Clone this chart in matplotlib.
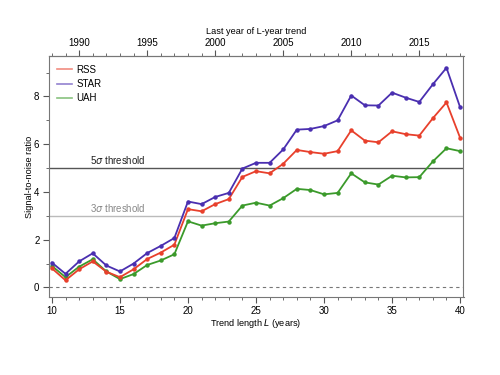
import matplotlib.pyplot as plt
import numpy as np
from matplotlib.ticker import MultipleLocator

plt.rcParams['font.family'] = ['Liberation Sans', 'DejaVu Sans']

# Trend length L (years)
trend_length = np.arange(10, 41)

# Signal-to-noise ratios
rss = [0.80, 0.30, 0.76, 1.09, 0.66, 0.43, 0.76, 1.19, 1.46, 1.79,
       3.28, 3.19, 3.49, 3.70, 4.63, 4.87, 4.78, 5.18, 5.76, 5.67,
       5.60, 5.71, 6.58, 6.15, 6.08, 6.54, 6.42, 6.36, 7.09, 7.75, 6.27]
star = [1.04, 0.57, 1.09, 1.43, 0.92, 0.67, 1.00, 1.44, 1.74, 2.07,
        3.60, 3.49, 3.79, 3.96, 4.98, 5.22, 5.22, 5.78, 6.61, 6.64,
        6.76, 7.00, 8.04, 7.63, 7.62, 8.16, 7.95, 7.77, 8.51, 9.20, 7.55]
uah = [0.90, 0.43, 0.87, 1.18, 0.67, 0.35, 0.56, 0.94, 1.13, 1.39,
       2.77, 2.59, 2.69, 2.76, 3.43, 3.55, 3.43, 3.74, 4.13, 4.08,
       3.90, 3.96, 4.78, 4.40, 4.31, 4.68, 4.61, 4.62, 5.28, 5.83, 5.71]

first_year = 1978  # last year of trend = L + 1978

fig = plt.figure(figsize=(5, 3.75), dpi=100)
ax = fig.add_axes([0.097, 0.208, 0.83, 0.643])

ax.axhline(5, color='#555555', lw=1.0, zorder=1)
ax.axhline(3, color='#bbbbbb', lw=1.0, zorder=1)
ax.axhline(0, color='#777777', lw=0.8, ls=(0, (3, 3)), zorder=1)
ax.text(12.8, 5.08, r'5$\sigma$ threshold', fontsize=7, color='#222222', va='bottom')
ax.text(12.8, 3.08, r'3$\sigma$ threshold', fontsize=7, color='#888888', va='bottom')

colors = {'RSS': '#e8402c', 'STAR': '#4a2fb0', 'UAH': '#3b9a2b'}
for name, vals in [('UAH', uah), ('RSS', rss), ('STAR', star)]:
    ax.plot(trend_length, vals, color=colors[name], lw=1.3, marker='o', ms=2.2, zorder=3)

handles = [plt.Line2D([], [], color=colors[n], lw=1.2, alpha=0.6) for n in ['RSS', 'STAR', 'UAH']]
ax.legend(handles, ['RSS', 'STAR', 'UAH'], loc='upper left', frameon=False, fontsize=7,
          handlelength=1.5, handletextpad=0.5, labelspacing=0.45,
          bbox_to_anchor=(0.0, 1.0))

ax.set_xlim(9.75, 40.25)
ax.set_ylim(-0.4, 9.7)
ax.xaxis.set_major_locator(MultipleLocator(5))
ax.xaxis.set_minor_locator(MultipleLocator(1))
ax.yaxis.set_major_locator(MultipleLocator(2))
ax.yaxis.set_minor_locator(MultipleLocator(1))
ax.tick_params(which='both', direction='out', labelsize=7, color='#555555', pad=2.5)
ax.tick_params(which='major', length=4)
ax.tick_params(which='minor', length=2.5)
for sp in ax.spines.values():
    sp.set_color('#777777')
    sp.set_linewidth(0.8)

ax.set_xlabel(r'Trend length $\it{L}$ (years)', fontsize=6.6, labelpad=1)
ax.set_ylabel('Signal-to-noise ratio', fontsize=6.6, labelpad=0)

top = ax.secondary_xaxis('top', functions=(lambda x: x + first_year, lambda y: y - first_year))
top.xaxis.set_major_locator(MultipleLocator(5))
top.xaxis.set_minor_locator(MultipleLocator(1))
top.tick_params(which='both', direction='out', labelsize=7, color='#555555', pad=1.5)
top.tick_params(which='major', length=4)
top.tick_params(which='minor', length=2.5)
top.spines['top'].set_color('#777777')
top.set_xlabel('Last year of L-year trend', fontsize=6.6, labelpad=3)

fig.savefig('out.png', dpi=100)
